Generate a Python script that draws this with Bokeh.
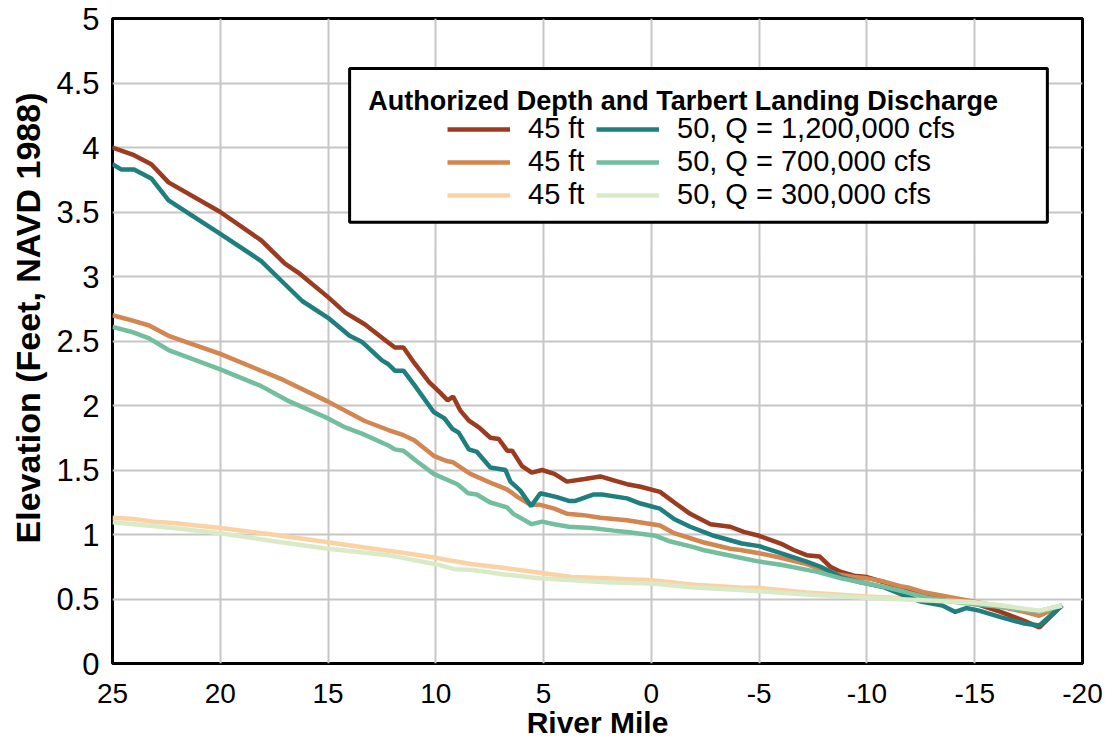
from bokeh.plotting import figure
from bokeh.models import (Range1d, FixedTicker, Legend, LegendItem, BoxAnnotation, Label, Title)
from bokeh.embed import file_html
from bokeh.resources import INLINE

# ---------------- data ----------------
x_tick_values = [25, 20, 15, 10, 5, 0, -5, -10, -15, -20]
x_tick_labels = ["25", "20", "15", "10", "5", "0", "-5", "-10", "-15", "-20"]
y_tick_values = [0, 0.5, 1, 1.5, 2, 2.5, 3, 3.5, 4, 4.5, 5]
y_tick_labels = ["0", "0.5", "1", "1.5", "2", "2.5", "3", "3.5", "4", "4.5", "5"]

x_title = "River Mile"
y_title = "Elevation (Feet, NAVD 1988)"
legend_title = "Authorized Depth and Tarbert Landing Discharge"
labels_45 = ["45 ft", "45 ft", "45 ft"]
labels_50 = ["50, Q = 1,200,000 cfs", "50, Q = 700,000 cfs", "50, Q = 300,000 cfs"]

# 45 ft, Q = 1,200,000 cfs
mile_45_1200 = [25, 24, 23.2, 22.4, 20, 18.1, 17, 16.3, 15, 14.2, 13.3, 12.3, 11.9, 11.5, 11.0,
                10.3, 9.8, 9.45, 9.2, 8.86, 8.45, 8.0, 7.47, 7.08, 6.69, 6.46, 6.0, 5.55, 5.07,
                4.5, 3.92, 3.1, 2.37, 1.75, 1.13, 0.5, -0.4, -1.05, -1.8, -2.74, -3.66, -4.28,
                -5.0, -6.0, -6.6, -7.2, -7.8, -8.3, -8.8, -9.4, -10.0, -10.8, -11.55, -12.2,
                -12.7, -13.6, -14.5, -15.1, -16.2, -17.3, -18.0, -19.05]
elev_45_1200 = [4.0, 3.94, 3.87, 3.73, 3.50, 3.28, 3.10, 3.02, 2.84, 2.72, 2.63, 2.50, 2.45, 2.45,
                2.33, 2.18, 2.10, 2.04, 2.07, 1.96, 1.88, 1.83, 1.75, 1.74, 1.65, 1.65, 1.53, 1.48,
                1.50, 1.47, 1.41, 1.43, 1.45, 1.42, 1.39, 1.37, 1.33, 1.25, 1.16, 1.08, 1.06, 1.02,
                0.99, 0.93, 0.88, 0.84, 0.83, 0.75, 0.71, 0.68, 0.67, 0.63, 0.59, 0.56, 0.54, 0.50,
                0.49, 0.46, 0.40, 0.33, 0.28, 0.45]

# 45 ft, Q = 700,000 cfs
mile_45_700 = [25, 24.1, 23.3, 22.4, 20, 17.1, 15.0, 13.3, 12.2, 11.5, 11.0, 10.1, 9.5, 9.2, 8.4,
               7.3, 6.7, 6.2, 5.6, 5.15, 4.5, 3.9, 3.15, 2.37, 1.13, -0.4, -1.05, -2.4, -3.66,
               -4.13, -5.0, -6.0, -7.2, -8.46, -9.4, -10.0, -10.8, -11.55, -11.9, -12.7, -14.0,
               -15.1, -16.2, -17.3, -18.0, -19.05]
elev_45_700 = [2.70, 2.66, 2.62, 2.54, 2.40, 2.20, 2.03, 1.88, 1.81, 1.77, 1.73, 1.61, 1.57, 1.56,
               1.47, 1.39, 1.35, 1.29, 1.23, 1.23, 1.20, 1.16, 1.15, 1.13, 1.11, 1.07, 1.01, 0.94,
               0.89, 0.88, 0.855, 0.82, 0.77, 0.695, 0.67, 0.66, 0.635, 0.60, 0.59, 0.55, 0.51,
               0.475, 0.44, 0.40, 0.37, 0.45]

# 45 ft, Q = 300,000 cfs
mile_45_300 = [25, 24, 23.2, 22.2, 20, 17.6, 15, 12.5, 11.6, 10, 9.4, 8.3, 6.8, 5, 3.7, 2.1, 0,
               -2, -4.1, -5, -7.2, -10, -12.6, -15, -16.2, -17.3, -18, -19.05]
elev_45_300 = [1.13, 1.12, 1.10, 1.09, 1.05, 1.00, 0.94, 0.88, 0.86, 0.82, 0.80, 0.77, 0.74, 0.70,
               0.67, 0.66, 0.645, 0.61, 0.59, 0.585, 0.55, 0.52, 0.50, 0.475, 0.45, 0.42, 0.405,
               0.45]

# 50 ft, Q = 1,200,000 cfs
mile_50_1200 = [25, 24.6, 24.0, 23.2, 22.4, 20, 18.1, 17, 16.2, 15, 14.0, 13.4, 12.5, 12.2, 11.9,
                11.5, 11.0, 10.1, 9.6, 9.24, 8.94, 8.47, 8.09, 7.47, 6.77, 6.54, 6.08, 5.58, 5.15,
                4.38, 3.83, 3.53, 2.7, 2.29, 1.13, 0.5, -0.4, -1.05, -1.8, -2.9, -4.2, -5.0, -6.0,
                -7.2, -7.85, -8.8, -9.7, -10.0, -10.8, -11.55, -12.5, -13.5, -14.1, -14.6, -15.2,
                -16.2, -17.3, -18.0, -19.05]
elev_50_1200 = [3.87, 3.83, 3.83, 3.76, 3.59, 3.33, 3.12, 2.94, 2.81, 2.68, 2.54, 2.49, 2.35, 2.32,
                2.27, 2.27, 2.16, 1.95, 1.90, 1.82, 1.79, 1.66, 1.64, 1.52, 1.50, 1.41, 1.34, 1.22,
                1.32, 1.29, 1.26, 1.26, 1.31, 1.31, 1.28, 1.24, 1.20, 1.12, 1.06, 0.99, 0.93, 0.91,
                0.855, 0.79, 0.75, 0.67, 0.63, 0.62, 0.59, 0.54, 0.48, 0.45, 0.40, 0.43, 0.41, 0.36,
                0.31, 0.295, 0.45]

# 50 ft, Q = 700,000 cfs
mile_50_700 = [25, 24.1, 23.3, 22.4, 20, 18.1, 16.9, 15.0, 14.2, 13.4, 12.2, 11.9, 11.5, 10.9, 10.1,
               9.0, 8.5, 8.1, 7.5, 6.7, 6.4, 5.55, 5.07, 4.5, 3.83, 2.76, 1.75, 1.13, -0.2, -0.8,
               -2.0, -2.4, -4.13, -5.0, -6.0, -7.7, -8.8, -10.0, -10.9, -11.9, -12.8, -13.9, -15.0,
               -16.2, -17.3, -18.0, -19.05]
elev_50_700 = [2.61, 2.57, 2.52, 2.43, 2.28, 2.15, 2.04, 1.90, 1.83, 1.78, 1.69, 1.66, 1.65, 1.57,
               1.47, 1.39, 1.32, 1.31, 1.25, 1.21, 1.16, 1.08, 1.10, 1.08, 1.06, 1.05, 1.03, 1.02,
               0.99, 0.95, 0.90, 0.88, 0.82, 0.79, 0.765, 0.71, 0.66, 0.62, 0.59, 0.55, 0.51, 0.48,
               0.46, 0.44, 0.415, 0.405, 0.45]

# 50 ft, Q = 300,000 cfs
mile_50_300 = [25, 24, 22.2, 20, 17.6, 15, 12.2, 10, 9.1, 8.3, 6.8, 5.2, 3.7, 2.1, 0, -2, -4.1, -5,
               -7.2, -10, -12.6, -15, -16.2, -17.3, -18, -19.05]
elev_50_300 = [1.095, 1.08, 1.05, 1.01, 0.95, 0.89, 0.84, 0.77, 0.73, 0.725, 0.69, 0.66, 0.645, 0.63,
               0.62, 0.59, 0.57, 0.56, 0.535, 0.51, 0.49, 0.47, 0.45, 0.425, 0.41, 0.45]

# ---------------- styles ----------------
FONT = "Liberation Sans"
colors_45 = ["#9B3B1F", "#D3864F", "#FAD2A4"]
colors_50 = ["#1F7F7F", "#72BE9F", "#D9EAC9"]
LINE_W = 4.5

p = figure(width=1104, height=742, output_backend="svg", toolbar_location=None,
           x_range=Range1d(25, -20), y_range=Range1d(0, 5),
           min_border_left=112, min_border_right=22, min_border_top=18, min_border_bottom=79)

p.background_fill_color = "white"
p.border_fill_color = "white"
p.outline_line_color = "black"
p.outline_line_width = 3

p.xaxis.ticker = FixedTicker(ticks=x_tick_values)
p.yaxis.ticker = FixedTicker(ticks=y_tick_values)
p.xaxis.major_label_overrides = {v: s for v, s in zip(x_tick_values, x_tick_labels)}
p.yaxis.major_label_overrides = {v: s for v, s in zip(y_tick_values, y_tick_labels)}

for ax in (p.xaxis[0], p.yaxis[0]):
    ax.axis_line_color = None
    ax.major_tick_line_color = None
    ax.minor_tick_line_color = None
    ax.major_label_text_font = FONT
    ax.major_label_text_color = "black"
    ax.axis_label_text_font = FONT
    ax.axis_label_text_font_style = "bold"
    ax.axis_label_text_color = "black"

p.xaxis.major_label_text_font_size = "28px"
p.yaxis.major_label_text_font_size = "31px"
p.xaxis.axis_label = x_title
p.xaxis.axis_label_text_font_size = "30px"
p.xaxis.major_label_standoff = 14
p.xaxis.axis_label_standoff = 0
p.yaxis.major_label_standoff = 7

ytitle = Title(text=y_title, align="right", offset=74, standoff=13,
               text_font=FONT, text_font_style="bold", text_font_size="34px",
               text_color="black")
p.add_layout(ytitle, "left")

p.xgrid.grid_line_color = "#C6C6C6"
p.ygrid.grid_line_color = "#C6C6C6"
p.xgrid.grid_line_width = 2
p.ygrid.grid_line_width = 2

r451 = p.line(mile_45_1200, elev_45_1200, line_color=colors_45[0], line_width=LINE_W)
r457 = p.line(mile_45_700, elev_45_700, line_color=colors_45[1], line_width=LINE_W)
r453 = p.line(mile_45_300, elev_45_300, line_color=colors_45[2], line_width=LINE_W)
r501 = p.line(mile_50_1200, elev_50_1200, line_color=colors_50[0], line_width=LINE_W)
r507 = p.line(mile_50_700, elev_50_700, line_color=colors_50[1], line_width=LINE_W)
r503 = p.line(mile_50_300, elev_50_300, line_color=colors_50[2], line_width=LINE_W)

# legend frame and title
box = BoxAnnotation(left=14.0, right=-18.37, bottom=3.42, top=4.612,
                    fill_color="white", fill_alpha=1.0, line_color="black", line_alpha=1.0,
                    line_width=3, level="annotation")
p.add_layout(box)
title = Label(x=13.13, y=4.36, text=legend_title, text_font=FONT, text_font_style="bold",
              text_font_size="27px", text_align="left", text_baseline="alphabetic",
              text_color="black")
p.add_layout(title)

items = [LegendItem(label=labels_45[0], renderers=[r451]),
         LegendItem(label=labels_45[1], renderers=[r457]),
         LegendItem(label=labels_45[2], renderers=[r453]),
         LegendItem(label=labels_50[0], renderers=[r501]),
         LegendItem(label=labels_50[1], renderers=[r507]),
         LegendItem(label=labels_50[2], renderers=[r503])]
legend = Legend(items=items, ncols=2, location=(335, 452),
                border_line_color=None, background_fill_alpha=0,
                padding=0, margin=0, spacing=0,
                glyph_width=63, glyph_height=28, label_height=28, label_width=68,
                label_standoff=18, label_text_font=FONT, label_text_font_size="29px",
                label_text_color="black")
p.add_layout(legend)

open("out.html", "w").write(file_html(p, INLINE))
